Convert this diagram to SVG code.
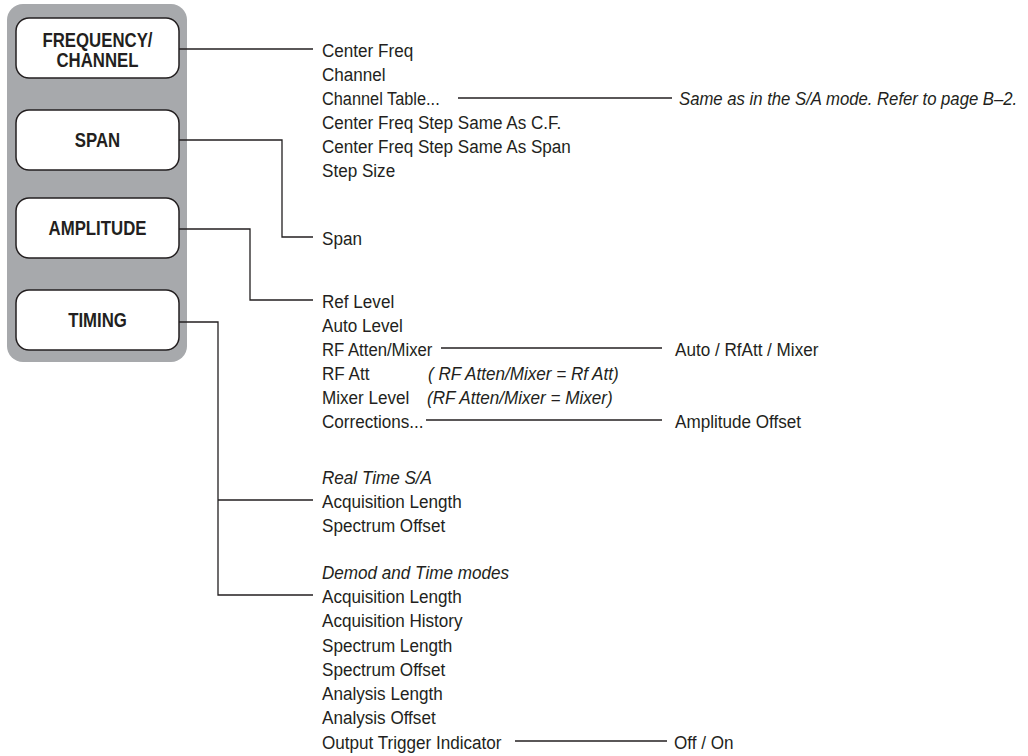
<svg xmlns="http://www.w3.org/2000/svg" width="1028" height="756" viewBox="0 0 1028 756">
<style>
.t{font-family:"Liberation Sans",Arial,sans-serif;font-size:19px;fill:#231f20}
.i{font-style:italic}
.b{font-family:"Liberation Sans",Arial,sans-serif;font-size:20px;font-weight:bold;fill:#231f20;text-anchor:middle}
.btn{fill:#fff;stroke:#231f20;stroke-width:1.5}
.c{fill:none;stroke:#231f20;stroke-width:1.3}
</style>
<rect id="panel" x="7" y="4" width="180" height="358" rx="16" fill="#a7a9ac"/>
<g id="btn-frequency">
<rect class="btn" x="16" y="18" width="163" height="60" rx="13"/>
<text class="b" transform="matrix(0.84 0 0 1 97.5 0)" x="0" y="47">FREQUENCY/</text>
<text class="b" transform="matrix(0.84 0 0 1 97.5 0)" x="0" y="67">CHANNEL</text>
</g>
<g id="btn-span">
<rect class="btn" x="16" y="110" width="163" height="60" rx="13"/>
<text class="b" transform="matrix(0.84 0 0 1 97.5 0)" x="0" y="147">SPAN</text>
</g>
<g id="btn-amplitude">
<rect class="btn" x="16" y="198" width="163" height="60" rx="13"/>
<text class="b" transform="matrix(0.84 0 0 1 97.5 0)" x="0" y="235">AMPLITUDE</text>
</g>
<g id="btn-timing">
<rect class="btn" x="16" y="290" width="163" height="60" rx="13"/>
<text class="b" transform="matrix(0.84 0 0 1 97.5 0)" x="0" y="327">TIMING</text>
</g>
<g id="connectors">
<path class="c" d="M179,49H313"/>
<path class="c" d="M179,140H282V237H313"/>
<path class="c" d="M179,229H250V300H313"/>
<path class="c" d="M179,322H218V595H313M218,500H313"/>
<path class="c" d="M458,98H672"/>
<path class="c" d="M441,348H662"/>
<path class="c" d="M426,420H662"/>
<path class="c" d="M515,741H667"/>
</g>
<g id="freq-menu">
<text class="t" transform="matrix(0.9 0 0 1 322 0)" x="0" y="57">Center Freq</text>
<text class="t" transform="matrix(0.9 0 0 1 322 0)" x="0" y="81">Channel</text>
<text class="t" transform="matrix(0.86 0 0 1 322 0)" x="0" y="105">Channel Table...</text>
<text class="t" transform="matrix(0.9 0 0 1 322 0)" x="0" y="129">Center Freq Step Same As C.F.</text>
<text class="t" transform="matrix(0.9 0 0 1 322 0)" x="0" y="153">Center Freq Step Same As Span</text>
<text class="t" transform="matrix(0.9 0 0 1 322 0)" x="0" y="177">Step Size</text>
</g>
<g id="channel-table-note">
<text class="t i" transform="matrix(0.88 0 0 1 679 0)" x="0" y="105">Same as in the S/A mode. Refer to page B–2.</text>
</g>
<g id="span-menu">
<text class="t" transform="matrix(0.9 0 0 1 322 0)" x="0" y="245">Span</text>
</g>
<g id="amplitude-menu">
<text class="t" transform="matrix(0.9 0 0 1 322 0)" x="0" y="308">Ref Level</text>
<text class="t" transform="matrix(0.9 0 0 1 322 0)" x="0" y="332">Auto Level</text>
<text class="t" transform="matrix(0.88 0 0 1 322 0)" x="0" y="356">RF Atten/Mixer</text>
<text class="t" transform="matrix(0.9 0 0 1 322 0)" x="0" y="380">RF Att</text>
<text class="t i" transform="matrix(0.9 0 0 1 428 0)" x="0" y="380">( RF Atten/Mixer = Rf Att)</text>
<text class="t" transform="matrix(0.9 0 0 1 322 0)" x="0" y="404">Mixer Level</text>
<text class="t i" transform="matrix(0.9 0 0 1 427 0)" x="0" y="404">(RF Atten/Mixer = Mixer)</text>
<text class="t" transform="matrix(0.9 0 0 1 322 0)" x="0" y="428">Corrections...</text>
</g>
<g id="rf-atten-options">
<text class="t" transform="matrix(0.9 0 0 1 675 0)" x="0" y="356">Auto / RfAtt / Mixer</text>
</g>
<g id="corrections-options">
<text class="t" transform="matrix(0.9 0 0 1 675 0)" x="0" y="428">Amplitude Offset</text>
</g>
<g id="timing-realtime">
<text class="t i" transform="matrix(0.9 0 0 1 322 0)" x="0" y="484">Real Time S/A</text>
<text class="t" transform="matrix(0.9 0 0 1 322 0)" x="0" y="508">Acquisition Length</text>
<text class="t" transform="matrix(0.9 0 0 1 322 0)" x="0" y="532">Spectrum Offset</text>
</g>
<g id="timing-demod">
<text class="t i" transform="matrix(0.9 0 0 1 322 0)" x="0" y="579">Demod and Time modes</text>
<text class="t" transform="matrix(0.9 0 0 1 322 0)" x="0" y="603">Acquisition Length</text>
<text class="t" transform="matrix(0.9 0 0 1 322 0)" x="0" y="627.3">Acquisition History</text>
<text class="t" transform="matrix(0.9 0 0 1 322 0)" x="0" y="651.6">Spectrum Length</text>
<text class="t" transform="matrix(0.9 0 0 1 322 0)" x="0" y="675.9">Spectrum Offset</text>
<text class="t" transform="matrix(0.9 0 0 1 322 0)" x="0" y="700.2">Analysis Length</text>
<text class="t" transform="matrix(0.9 0 0 1 322 0)" x="0" y="724.5">Analysis Offset</text>
<text class="t" transform="matrix(0.9 0 0 1 322 0)" x="0" y="748.8">Output Trigger Indicator</text>
</g>
<g id="output-trigger-options">
<text class="t" transform="matrix(0.9 0 0 1 674 0)" x="0" y="748.8">Off / On</text>
</g>
</svg>
